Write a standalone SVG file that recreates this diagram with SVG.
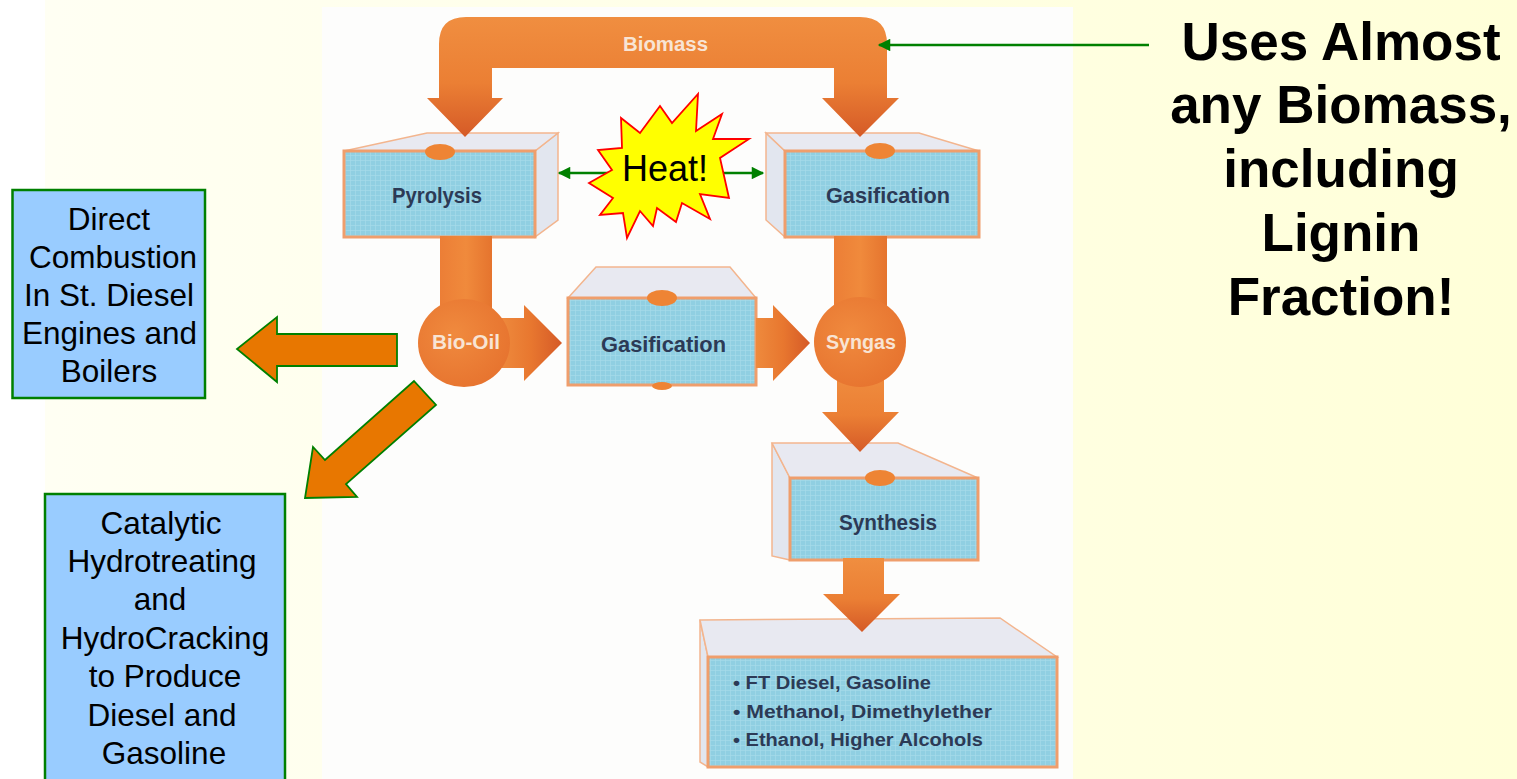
<svg xmlns="http://www.w3.org/2000/svg" width="1517" height="779" viewBox="0 0 1517 779">
<defs>
<linearGradient id="bg" x1="0" y1="0" x2="1" y2="0"><stop offset="0" stop-color="#FFFFF4"/><stop offset="1" stop-color="#FFFFD8"/></linearGradient>
<linearGradient id="gv" x1="0" y1="0" x2="0" y2="1"><stop offset="0" stop-color="#F08E40"/><stop offset="0.55" stop-color="#EB7F34"/><stop offset="1" stop-color="#D55A27"/></linearGradient>
<linearGradient id="gh" x1="0" y1="0" x2="1" y2="0"><stop offset="0" stop-color="#EE8A3D"/><stop offset="0.5" stop-color="#E8772F"/><stop offset="1" stop-color="#D55A27"/></linearGradient>
<linearGradient id="gp" x1="0" y1="0" x2="1" y2="0"><stop offset="0" stop-color="#EC7E36"/><stop offset="0.5" stop-color="#F08A3C"/><stop offset="1" stop-color="#E5742E"/></linearGradient>
<radialGradient id="gc" cx="0.4" cy="0.4" r="0.7"><stop offset="0" stop-color="#F08A3E"/><stop offset="1" stop-color="#E6722E"/></radialGradient>
<pattern id="grid" width="5" height="5" patternUnits="userSpaceOnUse"><rect width="5" height="5" fill="#90CFE2"/><path d="M0 0.5H5M0.5 0V5" stroke="#A6DAEA" stroke-width="0.7"/></pattern>
<marker id="ah" viewBox="0 0 10 10" refX="9" refY="5" markerWidth="5.5" markerHeight="5" orient="auto"><path d="M0 0L10 5L0 10z" fill="#008000"/></marker>
</defs>
<style>
.face{fill:url(#grid);stroke:#EF9E6C;stroke-width:3}
.top{fill:#E8E9F1;stroke:#F3B58E;stroke-width:1.5}
.side{fill:#E2E6EF;stroke:#F3B58E;stroke-width:1.5}
.dot{fill:#EE8434}
.lbl{font-family:"Liberation Sans",Arial,sans-serif;font-weight:bold;font-size:22px;fill:#2C3A56}
.wl{font-family:"Liberation Sans",Arial,sans-serif;font-weight:bold;font-size:20px;fill:#F8E4D4}
.pl{font-family:"Liberation Sans",Arial,sans-serif;font-weight:bold;font-size:18px;fill:#2C3A56}
.blue{fill:#99CCFF;stroke:#008000;stroke-width:2.5}
.bt{font-family:"Liberation Sans",Arial,sans-serif;font-size:31.5px;fill:#000;text-anchor:middle}
.big{font-family:"Liberation Sans",Arial,sans-serif;font-size:53px;font-weight:bold;fill:#000;text-anchor:middle}
.oa{fill:#E87700;stroke:#008000;stroke-width:1.8}
.gl{stroke:#008000;stroke-width:2.5;fill:none;marker-end:url(#ah)}
.flow{fill:url(#gv)}
.flowh{fill:url(#gh)}
.circ{fill:url(#gc)}
</style>
<rect width="1517" height="779" fill="url(#bg)"/>
<rect width="45" height="779" fill="#FFFFFF"/>
<rect x="322" y="7" width="751" height="772" fill="#FDFDFC"/>

<g id="pyrolysis">
<polygon class="side" points="535,151 558,133 558,220 535,237"/>
<polygon class="top" points="344,151 427,133 558,133 535,151"/>
<rect class="face" x="344" y="151" width="191" height="86"/>
<ellipse class="dot" cx="440" cy="152" rx="15" ry="8"/>
<text class="lbl" x="392" y="203" textLength="90" lengthAdjust="spacingAndGlyphs">Pyrolysis</text>
</g>
<g id="gasification1">
<polygon class="side" points="766,133 785,151 785,237 766,220"/>
<polygon class="top" points="766,133 919,133 979,151 785,151"/>
<rect class="face" x="785" y="151" width="194" height="86"/>
<ellipse class="dot" cx="880" cy="151" rx="15" ry="8"/>
<text class="lbl" x="826" y="203" textLength="124" lengthAdjust="spacingAndGlyphs">Gasification</text>
</g>
<g id="gasification2">
<polygon class="top" points="568,298 596,267 730,267 756,298"/>
<rect class="face" x="568" y="298" width="188" height="87"/>
<ellipse class="dot" cx="662" cy="298" rx="15" ry="8"/>
<ellipse class="dot" cx="662" cy="386" rx="10" ry="4"/>
<text class="lbl" x="601" y="352" textLength="125" lengthAdjust="spacingAndGlyphs">Gasification</text>
</g>
<g id="synthesis">
<polygon class="side" points="772,443 790,478 790,560 772,556"/>
<polygon class="top" points="772,443 898,443 978,478 790,478"/>
<rect class="face" x="790" y="478" width="188" height="82"/>
<ellipse class="dot" cx="880" cy="478" rx="15" ry="8"/>
<text class="lbl" x="839" y="530" textLength="98" lengthAdjust="spacingAndGlyphs">Synthesis</text>
</g>
<g id="products">
<polygon class="side" points="700,620 708,657 708,767 700,762"/>
<polygon class="top" points="700,620 1000,618 1057,657 708,657"/>
<rect class="face" x="708" y="657" width="349" height="110"/>
<text class="pl" x="733" y="689" textLength="198" lengthAdjust="spacingAndGlyphs">• FT Diesel, Gasoline</text>
<text class="pl" x="733" y="718" textLength="259" lengthAdjust="spacingAndGlyphs">• Methanol, Dimethylether</text>
<text class="pl" x="733" y="746" textLength="250" lengthAdjust="spacingAndGlyphs">• Ethanol, Higher Alcohols</text>
</g>

<g id="connectors">
<path class="flow" d="M439,98 L439,44 Q439,17 466,17 L860,17 Q887,17 887,44 L887,98 L899,98 L860,137 L822,98 L834,98 L834,68 L492,68 L492,98 L503,98 L465,137 L427,98 Z"/>
<text class="wl" x="623" y="51" textLength="85" lengthAdjust="spacingAndGlyphs">Biomass</text>
<rect x="440" y="236" width="52" height="80" fill="url(#gp)"/>
<path class="flowh" d="M500,318 L524,318 L524,305 L562,343 L524,381 L524,368 L500,368 Z"/>
<rect x="834" y="236" width="53" height="80" fill="url(#gp)"/>
<path class="flowh" d="M756,318 L773,318 L773,305 L810,343 L773,381 L773,368 L756,368 Z"/>
<path class="flow" d="M837,370 L837,412 L822,412 L860,452 L899,412 L884,412 L884,370 Z"/>
<path class="flow" d="M843,558 L843,594 L823,594 L862,632 L900,594 L884,594 L884,558 Z"/>
<line class="gl" x1="1149" y1="45" x2="879" y2="45"/>
<line class="gl" x1="620" y1="173" x2="559" y2="173"/>
<line class="gl" x1="705" y1="173" x2="763" y2="173"/>
<polygon class="oa" points="397,334 277,334 277,317 237,349 277,382 277,366 397,366"/>
<polygon class="oa" points="414,381 436,405 346,484 357,497 305,498 313,447 325,460"/>
</g>

<g id="biooil">
<ellipse class="circ" cx="464" cy="343" rx="46" ry="44"/>
<text class="wl" x="432" y="349" textLength="68" lengthAdjust="spacingAndGlyphs">Bio-Oil</text>
</g>
<g id="syngas">
<ellipse class="circ" cx="860" cy="342" rx="46" ry="45"/>
<text class="wl" x="826" y="349" textLength="70" lengthAdjust="spacingAndGlyphs">Syngas</text>
</g>

<g id="heat">
<polygon points="698,94 696,131 722,114 713,139 749,139 720,158 729,198 700,194 710,219 682,203 676,222 657,208 653,226 640,211 627,238 623,213 600,215 613,198 589,183 612,170 598,150 622,148 621,118 640,133 660,106 672,123" fill="#FFFF00" stroke="#FF0000" stroke-width="1.8" stroke-linejoin="miter"/>
<text x="665" y="181" font-family="'Liberation Sans',Arial,sans-serif" font-size="36" text-anchor="middle" fill="#000">Heat!</text>
</g>

<g id="direct-combustion">
<rect class="blue" x="12.5" y="190" width="192.5" height="208"/>
<text class="bt"><tspan x="109" y="230">Direct</tspan><tspan x="113" y="268">Combustion</tspan><tspan x="109" y="306">In St. Diesel</tspan><tspan x="109.5" y="344">Engines and</tspan><tspan x="109" y="382">Boilers</tspan></text>
</g>
<g id="catalytic">
<rect class="blue" x="45" y="494" width="240" height="300"/>
<text class="bt"><tspan x="161" y="534">Catalytic</tspan><tspan x="162" y="572">Hydrotreating</tspan><tspan x="160" y="610">and</tspan><tspan x="165" y="649">HydroCracking</tspan><tspan x="165" y="687">to Produce</tspan><tspan x="162" y="726">Diesel and</tspan><tspan x="164" y="764">Gasoline</tspan></text>
</g>
<g id="note">
<text class="big"><tspan x="1341" y="60">Uses Almost</tspan><tspan x="1341" y="123">any Biomass,</tspan><tspan x="1341" y="187">including</tspan><tspan x="1341" y="251">Lignin</tspan><tspan x="1341" y="315">Fraction!</tspan></text>
</g>
</svg>
